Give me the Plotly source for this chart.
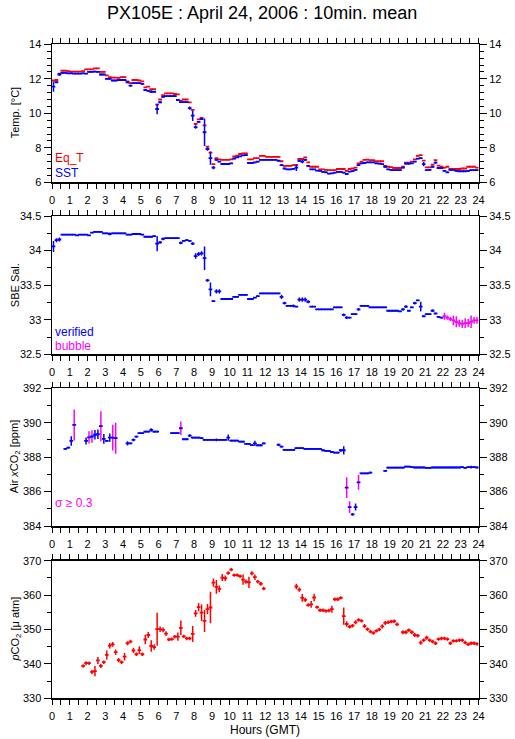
import numpy as np
import plotly.graph_objects as go

# ---------------- data (10-minute means, 6 values per hour) ----------------
eq_t = [
    [11.90, 11.93, 12.30, 12.47, 12.47, 12.45],
    [12.42, 12.42, 12.42, 12.42, 12.45, 12.55],
    [12.55, 12.55, 12.60, 12.60, 12.40, 12.40],
    [12.20, 12.10, 12.07, 12.07, 12.05, 12.10],
    [12.10, 11.85, 11.75, 11.93, 11.93, 11.90],
    [11.85, 11.50, 11.55, 11.40, 11.40, 10.50],
    [10.80, 11.05, 11.15, 11.15, 11.15, 11.12],
    [11.10, 10.73, 10.80, 10.80, 10.63, 10.20],
    [9.38, 9.65, 9.73, 9.30, 8.07, 7.72],
    [7.05, 7.40, 7.33, 7.30, 7.30, 7.30],
    [7.33, 7.50, 7.55, 7.64, 7.68, 7.68],
    [7.33, 7.33, 7.40, 7.40, 7.53, 7.53],
    [7.47, 7.47, 7.47, 7.47, 7.47, 7.22],
    [6.95, 6.95, 6.95, 7.00, 7.00, 7.35],
    [7.35, 7.45, 7.16, 6.90, 6.90, 6.90],
    [6.75, 6.75, 6.72, 6.70, 6.70, 6.70],
    [6.77, 6.77, 6.77, 6.66, 6.77, 6.80],
    [6.85, 7.10, 7.20, 7.30, 7.31, 7.28],
    [7.28, 7.22, 7.22, 7.22, 6.95, 6.90],
    [6.88, 6.83, 6.83, 6.83, 6.90, 7.14],
    [7.14, 7.20, 7.33, 7.53, 7.58, 7.26],
    [6.87, 6.87, 7.03, 7.28, 6.97, 6.90],
    [6.85, 6.90, 6.77, 6.77, 6.77, 6.77],
    [6.80, 6.80, 6.90, 6.90, 6.90, 6.85],
]

sst = [
    [11.55, 11.80, 12.25, 12.35, 12.35, 12.32],
    [12.32, 12.30, 12.30, 12.30, 12.32, 12.30],
    [12.40, 12.40, 12.42, 12.40, 12.25, 12.25],
    [12.00, 12.00, 11.90, 11.90, 11.93, 11.93],
    [11.93, 11.80, 11.60, 11.75, 11.75, 11.75],
    [11.70, 11.35, 11.30, 11.25, 11.25, 10.25],
    [10.64, 10.95, 11.00, 11.00, 11.00, 11.00],
    [10.77, 10.65, 10.65, 10.65, 10.30, 9.86],
    [9.20, 9.50, 9.67, 8.90, 7.93, 7.40],
    [6.85, 7.30, 7.20, 7.06, 7.06, 7.06],
    [7.10, 7.38, 7.45, 7.50, 7.56, 7.58],
    [7.12, 7.12, 7.15, 7.20, 7.30, 7.30],
    [7.30, 7.30, 7.30, 7.30, 7.25, 7.00],
    [6.80, 6.75, 6.75, 6.78, 6.85, 7.24],
    [7.20, 7.30, 6.95, 6.75, 6.75, 6.68],
    [6.66, 6.60, 6.58, 6.50, 6.52, 6.56],
    [6.60, 6.60, 6.56, 6.48, 6.62, 6.65],
    [6.72, 7.00, 7.10, 7.12, 7.16, 7.16],
    [7.16, 7.10, 7.08, 7.05, 6.90, 6.75],
    [6.72, 6.70, 6.70, 6.70, 6.85, 7.08],
    [7.08, 7.10, 7.20, 7.37, 7.40, 7.05],
    [6.70, 6.72, 6.90, 7.14, 6.83, 6.83],
    [6.66, 6.58, 6.72, 6.72, 6.66, 6.64],
    [6.64, 6.64, 6.66, 6.70, 6.70, 6.70],
]

sst_sd = [
    [0.30, 0.05, 0.08, 0.05, 0.04, 0.04],
    [0.04, 0.04, 0.04, 0.04, 0.04, 0.04],
    [0.04, 0.04, 0.04, 0.04, 0.06, 0.04],
    [0.04, 0.04, 0.04, 0.04, 0.04, 0.04],
    [0.04, 0.06, 0.06, 0.04, 0.04, 0.04],
    [0.04, 0.06, 0.04, 0.08, 0.04, 0.30],
    [0.06, 0.04, 0.04, 0.04, 0.04, 0.04],
    [0.06, 0.04, 0.04, 0.04, 0.10, 0.30],
    [0.10, 0.05, 0.05, 0.80, 0.10, 0.38],
    [0.10, 0.04, 0.04, 0.04, 0.04, 0.04],
    [0.04, 0.04, 0.04, 0.04, 0.04, 0.04],
    [0.04, 0.04, 0.04, 0.04, 0.04, 0.04],
    [0.04, 0.04, 0.04, 0.04, 0.04, 0.06],
    [0.04, 0.04, 0.04, 0.04, 0.20, 0.06],
    [0.10, 0.06, 0.06, 0.04, 0.04, 0.04],
    [0.04, 0.04, 0.04, 0.04, 0.04, 0.04],
    [0.04, 0.04, 0.04, 0.06, 0.04, 0.04],
    [0.04, 0.06, 0.04, 0.04, 0.04, 0.04],
    [0.04, 0.04, 0.04, 0.04, 0.06, 0.04],
    [0.04, 0.04, 0.04, 0.04, 0.04, 0.06],
    [0.06, 0.04, 0.04, 0.04, 0.04, 0.12],
    [0.04, 0.04, 0.06, 0.06, 0.04, 0.04],
    [0.04, 0.04, 0.04, 0.04, 0.04, 0.04],
    [0.04, 0.04, 0.04, 0.04, 0.04, 0.04],
]

sal = [
    [34.06, 34.15, 34.16, 34.23, 34.23, 34.23],
    [34.23, 34.23, 34.22, 34.23, 34.23, 34.23],
    [34.22, 34.26, 34.27, 34.27, 34.27, 34.25],
    [34.25, 34.24, 34.25, 34.25, 34.25, 34.25],
    [34.25, 34.23, 34.23, 34.24, 34.24, 34.24],
    [34.23, 34.20, 34.20, 34.20, 34.21, 34.10],
    [34.12, 34.17, 34.18, 34.18, 34.18, 34.18],
    [34.18, 34.11, 34.14, 34.15, 34.14, 34.10],
    [33.92, 33.95, 33.96, 33.89, 33.57, 33.44],
    [33.27, 33.41, 33.41, 33.30, 33.30, 33.30],
    [33.30, 33.33, 33.33, 33.36, 33.36, 33.36],
    [33.30, 33.30, 33.32, 33.34, 33.38, 33.38],
    [33.38, 33.38, 33.38, 33.38, 33.38, 33.33],
    [33.24, 33.20, 33.20, 33.20, 33.19, 33.29],
    [33.29, 33.29, 33.26, 33.19, 33.19, 33.15],
    [33.15, 33.15, 33.15, 33.15, 33.15, 33.18],
    [33.18, 33.18, 33.07, 33.03, 33.03, 33.08],
    [33.08, 33.15, 33.20, 33.20, 33.20, 33.18],
    [33.18, 33.18, 33.18, 33.18, 33.18, 33.13],
    [33.13, 33.13, 33.13, 33.12, 33.15, 33.19],
    [33.13, 33.18, 33.24, 33.28, 33.19, 33.05],
    [33.08, 33.08, 33.13, 33.09, 33.04, 33.03],
    [33.05, 33.03, 33.01, 32.99, 32.97, 32.95],
    [32.94, 32.95, 32.95, 32.97, 32.99, 32.99],
]

sal_sd = [
    [0.08, 0.03, 0.03, 0.01, 0.01, 0.01],
    [0.01, 0.01, 0.01, 0.01, 0.01, 0.01],
    [0.01, 0.01, 0.01, 0.01, 0.01, 0.01],
    [0.01, 0.02, 0.01, 0.01, 0.01, 0.01],
    [0.01, 0.01, 0.01, 0.01, 0.01, 0.01],
    [0.01, 0.01, 0.01, 0.01, 0.01, 0.11],
    [0.02, 0.02, 0.01, 0.01, 0.01, 0.01],
    [0.01, 0.02, 0.01, 0.01, 0.01, 0.02],
    [0.04, 0.03, 0.03, 0.17, 0.02, 0.10],
    [0.01, 0.03, 0.03, 0.01, 0.01, 0.01],
    [0.01, 0.01, 0.01, 0.01, 0.01, 0.01],
    [0.01, 0.01, 0.01, 0.01, 0.01, 0.01],
    [0.01, 0.01, 0.01, 0.01, 0.01, 0.03],
    [0.02, 0.01, 0.01, 0.02, 0.01, 0.03],
    [0.03, 0.03, 0.02, 0.01, 0.01, 0.01],
    [0.01, 0.01, 0.01, 0.01, 0.01, 0.01],
    [0.01, 0.01, 0.02, 0.02, 0.01, 0.01],
    [0.01, 0.02, 0.01, 0.01, 0.01, 0.01],
    [0.01, 0.01, 0.01, 0.01, 0.01, 0.01],
    [0.01, 0.01, 0.01, 0.01, 0.02, 0.02],
    [0.01, 0.01, 0.02, 0.01, 0.07, 0.01],
    [0.01, 0.01, 0.02, 0.01, 0.01, 0.01],
    [0.05, 0.03, 0.03, 0.07, 0.08, 0.05],
    [0.06, 0.07, 0.06, 0.09, 0.05, 0.05],
]
sal_bubble_from_hour = 22.0

N = None
air = [
    [N, N, N, N, 388.48, 388.55],
    [388.94, 389.87, N, N, N, 388.94],
    [389.15, 389.20, 389.30, 389.33, 389.80, 389.06],
    [388.94, 389.13, 389.13, 389.10, N, N],
    [N, 388.80, 388.80, 389.00, 389.19, 389.39],
    [389.39, 389.48, 389.48, 389.58, 389.48, 389.48],
    [N, N, N, N, 389.39, 389.39],
    [389.39, 389.68, 389.04, 389.04, 389.25, 389.13],
    [389.13, 389.13, 389.10, 389.00, 389.00, 389.00],
    [389.00, 389.00, 389.00, 389.00, 389.00, 389.13],
    [388.96, 388.96, 388.96, 388.90, 388.90, 388.77],
    [388.77, 388.70, 388.80, 388.69, 388.69, 388.80],
    [N, N, N, N, 388.72, 388.61],
    [388.42, 388.42, 388.42, 388.42, 388.52, 388.52],
    [388.52, 388.48, 388.48, 388.48, 388.48, 388.48],
    [388.48, 388.40, 388.36, 388.36, 388.30, 388.26],
    [388.26, 388.40, 388.40, 386.23, 385.10, 384.68],
    [385.10, 386.54, 387.06, 387.06, 387.06, 387.10],
    [N, N, N, N, 387.20, 387.39],
    [387.39, 387.39, 387.39, 387.39, 387.39, 387.45],
    [387.45, 387.42, 387.40, 387.40, 387.40, 387.40],
    [387.38, 387.38, 387.40, 387.40, 387.40, 387.40],
    [387.40, 387.40, 387.40, 387.40, 387.40, 387.40],
    [387.42, 387.38, 387.42, 387.42, 387.42, 387.40],
]

air_sd = [
    [0, 0, 0, 0, 0.04, 0.05],
    [0.28, 0.90, 0, 0, 0, 0.20],
    [0.36, 0.36, 0.28, 0.28, 0.87, 0.28],
    [0.05, 0.24, 0.75, 0.90, 0, 0],
    [0, 0.12, 0.05, 0.08, 0.05, 0.05],
    [0.05, 0.05, 0.05, 0.10, 0.05, 0.05],
    [0, 0, 0, 0, 0.05, 0.05],
    [0.05, 0.39, 0.05, 0.05, 0.08, 0.05],
    [0.05, 0.05, 0.05, 0.05, 0.05, 0.05],
    [0.05, 0.08, 0.05, 0.05, 0.05, 0.18],
    [0.05, 0.05, 0.05, 0.05, 0.05, 0.05],
    [0.05, 0.05, 0.15, 0.05, 0.05, 0.05],
    [0, 0, 0, 0, 0.06, 0.05],
    [0.05, 0.05, 0.05, 0.05, 0.05, 0.05],
    [0.05, 0.05, 0.05, 0.05, 0.05, 0.05],
    [0.05, 0.05, 0.05, 0.05, 0.05, 0.05],
    [0.05, 0.08, 0.24, 0.60, 0.34, 0.08],
    [0.20, 0.43, 0.05, 0.05, 0.05, 0.05],
    [0, 0, 0, 0, 0.05, 0.05],
    [0.05, 0.05, 0.05, 0.05, 0.05, 0.05],
    [0.05, 0.05, 0.05, 0.05, 0.05, 0.05],
    [0.05, 0.05, 0.05, 0.05, 0.05, 0.05],
    [0.05, 0.05, 0.05, 0.05, 0.05, 0.05],
    [0.05, 0.05, 0.05, 0.08, 0.05, 0.05],
]
sigma_flag = 0.3

pco2 = [
    [N, N, N, N, N, N],
    [N, N, N, N, 339.4, 340.2],
    [340.2, 337.7, 337.9, 341.0, 339.4, 340.5],
    [342.6, 345.3, 345.7, 343.4, 341.1, 340.5],
    [342.1, 346.0, 346.5, 343.9, 342.8, 344.0],
    [342.8, 347.1, 348.4, 345.2, 344.9, 350.1],
    [350.1, 349.9, 348.8, 347.1, 347.2, 347.9],
    [347.9, 350.5, 348.0, 347.4, 347.4, 348.7],
    [354.7, 356.5, 354.9, 352.5, 355.9, 356.4],
    [363.6, 362.4, 361.8, 365.1, 364.9, 366.4],
    [367.4, 365.8, 365.8, 365.5, 364.5, 363.9],
    [363.7, 366.3, 365.2, 363.9, 363.3, 361.9],
    [N, N, N, N, N, N],
    [N, N, N, N, 362.5, 361.6],
    [359.2, 358.6, 357.1, 357.3, 359.3, 356.5],
    [355.6, 355.6, 355.4, 355.5, 355.9, 358.8],
    [358.8, 359.2, 353.9, 351.6, 350.8, 351.1],
    [352.1, 352.8, 352.5, 351.0, 350.1, 349.4],
    [349.0, 349.6, 350.0, 350.9, 351.9, 352.1],
    [352.3, 352.4, 351.5, N, 349.2, 349.2],
    [349.8, 349.2, 348.4, 348.2, 346.2, 346.9],
    [347.6, 346.9, 346.5, 346.0, 347.2, 347.4],
    [347.4, 347.2, 346.0, 346.7, 346.7, 346.9],
    [346.9, 346.2, 345.7, 346.0, 346.0, 345.8],
]

pco2_sd = [
    [0, 0, 0, 0, 0, 0],
    [0, 0, 0, 0, 0.5, 0.6],
    [0.5, 0.6, 1.5, 1.0, 0.6, 0.5],
    [1.3, 0.8, 0.7, 0.8, 0.6, 0.5],
    [1.1, 0.6, 0.5, 0.7, 0.5, 1.1],
    [0.5, 1.4, 0.9, 1.7, 0.8, 4.8],
    [0.8, 0.7, 0.7, 0.5, 0.5, 0.5],
    [1.2, 2.1, 0.5, 0.5, 0.5, 2.3],
    [1.0, 1.2, 2.4, 3.2, 1.5, 4.6],
    [1.2, 2.0, 1.0, 1.0, 0.8, 0.5],
    [0.5, 0.5, 0.5, 0.5, 1.5, 0.6],
    [1.6, 0.6, 0.8, 0.5, 0.6, 0.5],
    [0, 0, 0, 0, 0, 0],
    [0, 0, 0, 0, 0.8, 0.6],
    [1.1, 0.6, 0.5, 1.0, 1.1, 0.5],
    [0.5, 0.5, 0.5, 0.5, 1.0, 0.5],
    [0.5, 0.5, 2.5, 0.8, 0.5, 0.5],
    [0.6, 0.5, 0.5, 0.6, 0.5, 0.5],
    [0.5, 0.5, 0.5, 0.6, 0.6, 0.5],
    [0.5, 0.5, 0.5, 0, 0.6, 0.6],
    [0.5, 0.6, 0.6, 0.5, 0.6, 0.5],
    [0.6, 0.5, 0.5, 0.5, 0.5, 0.5],
    [0.5, 0.5, 0.5, 0.5, 0.5, 0.5],
    [0.5, 0.5, 0.5, 0.5, 0.5, 0.5],
]

hour_ticks = list(range(0, 25))

# ---------------- helpers ----------------
def flat(rows):
    return [v for r in rows for v in r]

hours = [(i + 0.5) / 6.0 for i in range(144)]   # centre of each 10-min bin
HALF = 0.105                                     # half width of the drawn bin bar (hours)

RED, BLUE, MAG = "#ff0000", "#0000ff", "#ff00ff"
W, H = 515, 739
FONT = "Liberation Sans, Arial, sans-serif"

fig = go.Figure()


def bars(x, y, sd, color, xa, ya, ycolor=None, show_x=True):
    ex = dict(type="constant", value=HALF, width=0, thickness=1.8, color=color, visible=show_x)
    if sd is None:
        ey = dict(visible=False)
    else:
        ey = dict(type="data", array=sd, symmetric=True, width=0, thickness=1.5,
                  color=ycolor or color, visible=True)
    fig.add_trace(go.Scatter(x=x, y=y, mode="markers", xaxis=xa, yaxis=ya,
                             marker=dict(size=1, color=color),
                             error_x=ex, error_y=ey, hoverinfo="skip",
                             showlegend=False))


# panel 1: temperature
bars(hours, flat(eq_t), None, RED, "x", "y")
bars(hours, flat(sst), flat(sst_sd), BLUE, "x", "y")

# panel 2: salinity
s_v, s_sd = flat(sal), flat(sal_sd)
ver_y = [v if h < sal_bubble_from_hour else None for h, v in zip(hours, s_v)]
bub_y = [v if h >= sal_bubble_from_hour else None for h, v in zip(hours, s_v)]
bars(hours, ver_y, s_sd, BLUE, "x2", "y2")
bars(hours, bub_y, s_sd, MAG, "x2", "y2")

# panel 3: air xCO2 (sigma >= 0.3 drawn with magenta error bars)
a_v, a_sd = flat(air), flat(air_sd)
sd_low = [s if s < sigma_flag else 0 for s in a_sd]
hi_y = [v if (v is not None and s >= sigma_flag) else None for v, s in zip(a_v, a_sd)]
sd_hi = [s if s >= sigma_flag else 0 for s in a_sd]
bars(hours, hi_y, sd_hi, BLUE, "x3", "y3", ycolor=MAG, show_x=False)
bars(hours, a_v, sd_low, BLUE, "x3", "y3")

# panel 4: pCO2
bars(hours, flat(pco2), flat(pco2_sd), RED, "x4", "y4")

# ---------------- layout ----------------
def py(pix):
    return 1 - pix / H

x0, x1 = 52 / W, 478.5 / W
panels = [  # (top px, bottom px, range, major, minor, title)
    (44.3, 182.3, [6, 14], 2, 0.4, "Temp. [°C]"),
    (216.0, 354.3, [32.5, 34.5], 0.5, 0.25, "SBE Sal."),
    (388.3, 526.0, [384, 392], 2, 1, "Air <i>x</i>CO<sub>2</sub> [ppm]"),
    (560.7, 698.3, [330, 370], 10, 5, "<i>p</i>CO<sub>2</sub> [μ atm]"),
]

tickfont = dict(family=FONT, size=11, color="black")
layout = dict(width=W, height=H, margin=dict(l=0, r=0, t=0, b=0, autoexpand=False),
              paper_bgcolor="white", plot_bgcolor="white", showlegend=False,
              font=dict(family=FONT, size=11, color="black"))
annotations = []

for i, (top, bot, rng, major, minor, title) in enumerate(panels):
    k = "" if i == 0 else str(i + 1)
    dom = [py(bot), py(top)]
    layout["xaxis" + k] = dict(
        domain=[x0, x1], anchor="y" + k, range=[0, 24], tickmode="array",
        tickvals=hour_ticks, ticktext=[str(t) for t in hour_ticks],
        ticks="outside", ticklen=5, tickwidth=1, tickcolor="black",
        showline=True, linecolor="black", linewidth=1.5, mirror="ticks",
        showgrid=False, zeroline=False, tickfont=tickfont, ticklabelstandoff=2,
        automargin=False,
        minor=dict(dtick=0.5, tick0=0, ticks="outside", ticklen=5, tickwidth=1,
                   tickcolor="black", showgrid=False))
    common = dict(domain=dom, range=rng, tickmode="linear", tick0=rng[0], dtick=major,
                  ticks="outside", ticklen=7, tickwidth=1, tickcolor="black",
                  showline=True, linecolor="black", linewidth=1.5,
                  showgrid=False, zeroline=False, tickfont=tickfont,
                  ticklabelstandoff=0, automargin=False,
                  minor=dict(dtick=minor, tick0=rng[0], ticks="outside", ticklen=4,
                             tickwidth=1, tickcolor="black", showgrid=False))
    layout["yaxis" + k] = dict(anchor="x" + k, side="left", **common)
    rk = str(i + 5)
    layout["yaxis" + rk] = dict(anchor="x" + k, side="right", overlaying="y" + k, **common)
    # invisible trace so the right-hand axis renders
    fig.add_trace(go.Scatter(x=[0], y=[rng[0]], xaxis="x" + k, yaxis="y" + rk,
                             mode="markers", marker=dict(opacity=0, size=1),
                             hoverinfo="skip", showlegend=False))
    annotations.append(dict(text=title, x=15 / W, y=py((top + bot) / 2), xref="paper",
                            yref="paper", textangle=-90, showarrow=False,
                            xanchor="center", yanchor="middle",
                            font=dict(family=FONT, size=11, color="black")))


def label(text, px, pyy, color, size=12):
    annotations.append(dict(text=text, x=px / W, y=py(pyy), xref="paper", yref="paper",
                            showarrow=False, xanchor="left", yanchor="middle",
                            font=dict(family=FONT, size=size, color=color)))


label("Eq_T", 53, 158, RED)
label("SST", 53, 172.5, BLUE)
label("verified", 53, 331.5, BLUE)
label("bubble", 53, 345.5, MAG)
label("σ ≥ 0.3", 53, 503, MAG)

annotations.append(dict(text="PX105E : April 24, 2006 : 10min. mean", x=262 / W, y=py(13),
                        xref="paper", yref="paper", showarrow=False, xanchor="center",
                        yanchor="middle", font=dict(family=FONT, size=18, color="black")))
annotations.append(dict(text="Hours (GMT)", x=265 / W, y=py(730), xref="paper", yref="paper",
                        showarrow=False, xanchor="center", yanchor="middle",
                        font=dict(family=FONT, size=12, color="black")))

layout["annotations"] = annotations
fig.update_layout(**layout)
fig.write_html("out.html", config={"displayModeBar": False, "staticPlot": True},
               post_script="document.body.style.margin='0';document.body.style.padding='0';")
